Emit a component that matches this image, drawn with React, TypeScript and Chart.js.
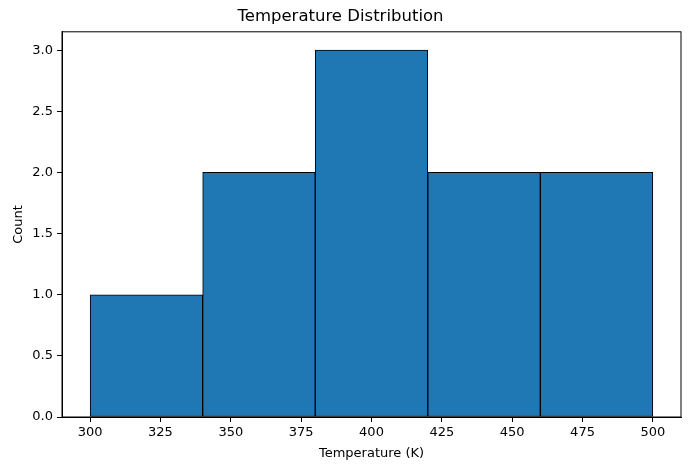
import { useEffect, useRef } from 'react';
import { Chart, ChartConfiguration, Plugin, registerables } from 'chart.js';

Chart.register(...registerables);

// Histogram bins (K) and counts
const binStarts = [300, 340, 380, 420, 460];
const binWidth = 40;
const counts = [1, 2, 3, 2, 2];

const xTicks = [300, 325, 350, 375, 400, 425, 450, 475, 500];
const yTicks = [0, 0.5, 1, 1.5, 2, 2.5, 3];

const FONT = "'DejaVu Sans', sans-serif";

// draws the top and right spines so the axes look boxed in
const framePlugin: Plugin = {
  id: 'frame',
  afterDatasetsDraw(chart) {
    const { ctx, chartArea } = chart;
    ctx.save();
    ctx.strokeStyle = '#000';
    ctx.lineWidth = 1;
    ctx.strokeRect(chartArea.left, chartArea.top, chartArea.right - chartArea.left, chartArea.bottom - chartArea.top);
    ctx.restore();
  },
};

export default function App() {
  const canvasRef = useRef<HTMLCanvasElement>(null);
  const chartRef = useRef<Chart | null>(null);

  useEffect(() => {
    document.body.style.margin = '0';
    if (!canvasRef.current) return;
    if (chartRef.current) chartRef.current.destroy();

    const config: ChartConfiguration = {
      type: 'bar',
      data: {
        datasets: [
          {
            label: 'Count',
            data: binStarts.map((s, i) => ({ x: s + binWidth / 2, y: counts[i] })),
            backgroundColor: '#1f77b4',
            borderColor: '#000',
            borderWidth: 1,
            borderSkipped: false,
            // bar spans the whole bin, measured on the x scale
            barThickness: (ctx: any) => {
              const xs = ctx.chart.scales.x;
              return xs.getPixelForValue(binWidth) - xs.getPixelForValue(0);
            },
          } as any,
        ],
      },
      options: {
        responsive: false,
        animation: false,
        layout: { padding: { left: 0, right: 10, top: 0, bottom: 0 } },
        plugins: {
          legend: { display: false },
          tooltip: { enabled: false },
          title: {
            display: true,
            text: 'Temperature Distribution',
            color: '#000',
            font: { family: FONT, size: 16.5, weight: 'normal' },
            padding: { top: 7, bottom: 5 },
          },
        },
        scales: {
          x: {
            type: 'linear',
            min: 290,
            max: 510,
            offset: false,
            afterBuildTicks: (axis) => {
              axis.ticks = xTicks.map((v) => ({ value: v }));
            },
            afterFit: (axis) => {
              axis.height = 53;
            },
            ticks: {
              color: '#000',
              font: { family: FONT, size: 13 },
              padding: 3,
              maxRotation: 0,
              autoSkip: false,
            },
            grid: {
              offset: false,
              drawOnChartArea: false,
              drawTicks: true,
              tickLength: 5,
              color: '#000',
            },
            border: { display: true, color: '#000' },
            title: {
              display: true,
              text: 'Temperature (K)',
              color: '#000',
              font: { family: FONT, size: 13 },
              padding: { top: 2, bottom: 9 },
            },
          },
          y: {
            type: 'linear',
            min: 0,
            max: 3.15,
            afterBuildTicks: (axis) => {
              axis.ticks = yTicks.map((v) => ({ value: v }));
            },
            afterFit: (axis) => {
              axis.width = 62;
            },
            ticks: {
              color: '#000',
              font: { family: FONT, size: 13 },
              padding: 4,
              callback: (value) => Number(value).toFixed(1),
            },
            grid: {
              drawOnChartArea: false,
              drawTicks: true,
              tickLength: 5,
              color: '#000',
            },
            border: { display: true, color: '#000' },
            title: {
              display: true,
              text: 'Count',
              color: '#000',
              font: { family: FONT, size: 13 },
              padding: { top: 11, bottom: 4 },
            },
          },
        },
      },
      plugins: [framePlugin],
    };

    chartRef.current = new Chart(canvasRef.current, config);

    return () => {
      if (chartRef.current) {
        chartRef.current.destroy();
        chartRef.current = null;
      }
    };
  }, []);

  return (
    <div style={{ width: 691, height: 470, background: '#fff' }}>
      <canvas ref={canvasRef} width={691} height={470} style={{ width: 691, height: 470 }}></canvas>
    </div>
  );
}
